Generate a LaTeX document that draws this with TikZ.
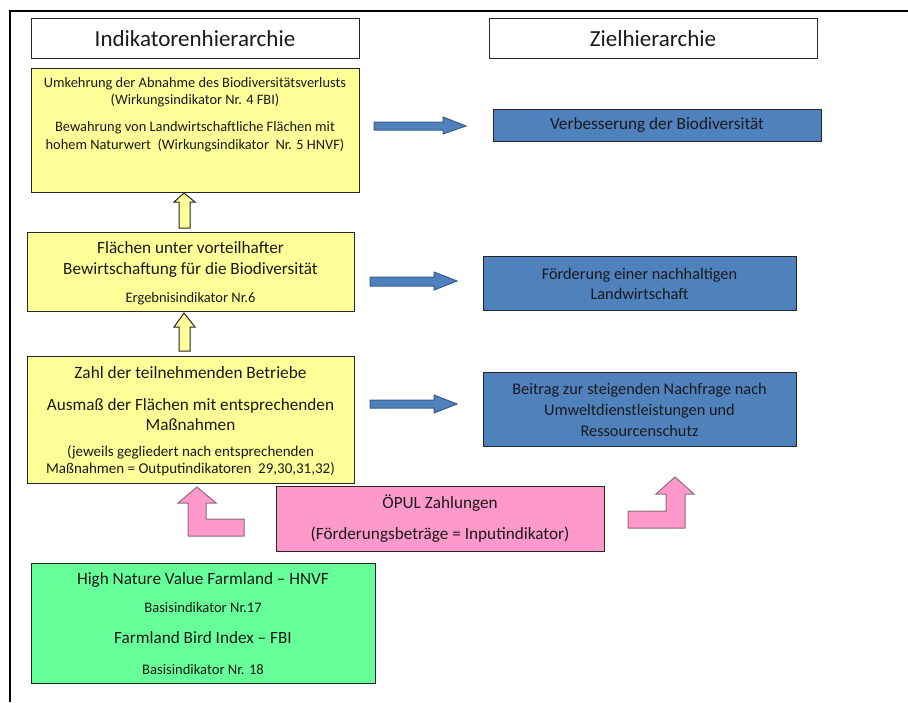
\documentclass[tikz,border=0pt]{standalone}
\usepackage{fontspec}
\setmainfont{Carlito}
\definecolor{ylw}{HTML}{FFFF99}
\definecolor{blu}{HTML}{4F81BD}
\definecolor{bluline}{HTML}{385D8A}
\definecolor{pnk}{HTML}{FF99CC}
\definecolor{pnkline}{HTML}{8C6A7C}
\definecolor{grn}{HTML}{66FF99}
\definecolor{txtc}{HTML}{1A1A1A}
\tikzset{
  boxshape/.style={draw=black!85, line width=1pt},
  txt/.style={inner sep=0pt, align=center, text=txtc},
  blockarrow/.style={line width=1pt, line join=miter},
}
\newcommand{\fs}[2]{\fontsize{#1}{#2}\selectfont}
\begin{document}
\begin{tikzpicture}[x=1pt,y=-1pt]
\useasboundingbox (0,0) rectangle (908,702);
% frame
\draw[line width=2pt] (10,702) -- (10,11) -- (908,11);
% headers
\node[boxshape, fill=white, minimum width=328pt, minimum height=40pt, anchor=north west] (h1) at (31,18) {};
\node[txt, font=\fs{23}{27}] (h1t) at (195,39) {Indikatorenhierarchie};
\node[boxshape, fill=white, minimum width=328pt, minimum height=40pt, anchor=north west] (h2) at (489,18) {};
\node[txt, font=\fs{23}{27}] (h2t) at (653,39) {Zielhierarchie};
% yellow boxes
\node[boxshape, fill=ylw, minimum width=328pt, minimum height=124pt, anchor=north west] (y1) at (31,68) {};
\node[txt, font=\fs{14.4}{17}] (y1a) at (195,92) {Umkehrung der Abnahme des Biodiversitätsverlusts\\(Wirkungsindikator Nr. 4 FBI)};
\node[txt, font=\fs{14.4}{18}] (y1b) at (195,136.5) {Bewahrung von Landwirtschaftliche Flächen mit\\hohem Naturwert\ \ (Wirkungsindikator\ \ Nr. 5 HNVF)};
\node[boxshape, fill=ylw, minimum width=327pt, minimum height=79pt, anchor=north west] (y2) at (27,232) {};
\node[txt, font=\fs{17.2}{21}] (y2a) at (190.5,260) {Flächen unter vorteilhafter\\Bewirtschaftung für die Biodiversität};
\node[txt, font=\fs{14.5}{15}] (y2b) at (190.5,298.5) {Ergebnisindikator Nr.6};
\node[boxshape, fill=ylw, minimum width=327pt, minimum height=127pt, anchor=north west] (y3) at (27,356) {};
\node[txt, font=\fs{17.3}{20}] (y3a) at (190.5,372.5) {Zahl der teilnehmenden Betriebe};
\node[txt, font=\fs{17.2}{20.5}] (y3b) at (190.5,414.5) {Ausmaß der Flächen mit entsprechenden\\Maßnahmen};
\node[txt, font=\fs{15}{16.5}] (y3c) at (190.5,460.5) {(jeweils gegliedert nach entsprechenden\\Maßnahmen = Outputindikatoren\ \ 29,30,31,32)};
% blue boxes
\node[boxshape, fill=blu, minimum width=328pt, minimum height=32pt, anchor=north west] (b1) at (493,109) {};
\node[txt, font=\fs{17.2}{20}] (b1t) at (657,125.5) {Verbesserung der Biodiversität};
\node[boxshape, fill=blu, minimum width=313pt, minimum height=54pt, anchor=north west] (b2) at (483,256) {};
\node[txt, font=\fs{16.3}{20}] (b2t) at (639.5,283.5) {Förderung einer nachhaltigen\\Landwirtschaft};
\node[boxshape, fill=blu, minimum width=313pt, minimum height=74pt, anchor=north west] (b3) at (483,372) {};
\node[txt, font=\fs{16.3}{21}] (b3t) at (639.5,409.5) {Beitrag zur steigenden Nachfrage nach\\Umweltdienstleistungen und\\Ressourcenschutz};
% pink box
\node[boxshape, fill=pnk, minimum width=328pt, minimum height=65pt, anchor=north west] (p1) at (276,486) {};
\node[txt, font=\fs{17.2}{20}] (p1a) at (440,503.5) {ÖPUL Zahlungen};
\node[txt, font=\fs{17.2}{20}] (p1b) at (440,534.5) {(Förderungsbeträge = Inputindikator)};
% green box
\node[boxshape, fill=grn, minimum width=344pt, minimum height=120pt, anchor=north west] (g1) at (31,563) {};
\node[txt, font=\fs{17.2}{20}] (g1a) at (203,579.5) {High Nature Value Farmland – HNVF};
\node[txt, font=\fs{14.6}{15}] (g1b) at (203,607.5) {Basisindikator Nr.17};
\node[txt, font=\fs{17.2}{20}] (g1c) at (203,637.5) {Farmland Bird Index – FBI};
\node[txt, font=\fs{14.6}{15}] (g1d) at (203,669.5) {Basisindikator Nr. 18};
% yellow up arrows
\draw[blockarrow, fill=ylw, draw=black!85] (184,193) -- (195,202) -- (190,202) -- (190,228) -- (179,228) -- (179,202) -- (174,202) -- cycle;
\draw[blockarrow, fill=ylw, draw=black!85] (184,313) -- (195,327) -- (190,327) -- (190,351) -- (179,351) -- (179,327) -- (174,327) -- cycle;
% blue right arrows
\draw[blockarrow, fill=blu, draw=bluline] (374,122) -- (443,122) -- (443,117) -- (466,126) -- (443,134) -- (443,130) -- (374,130) -- cycle;
\draw[blockarrow, fill=blu, draw=bluline] (370,277) -- (434,277) -- (434,272) -- (457,281) -- (434,290) -- (434,286) -- (370,286) -- cycle;
\draw[blockarrow, fill=blu, draw=bluline] (370,400) -- (434,400) -- (434,395) -- (457,404) -- (434,413) -- (434,408) -- (370,408) -- cycle;
% pink bent arrows
\draw[blockarrow, fill=pnk, draw=pnkline] (197,487) -- (216,503) -- (206,503) -- (206,519) -- (244,519) -- (244,536) -- (188,536) -- (188,503) -- (178,503) -- cycle;
\draw[blockarrow, fill=pnk, draw=pnkline] (675,477) -- (694,494) -- (685,494) -- (685,528) -- (628,528) -- (628,511) -- (666,511) -- (666,494) -- (656,494) -- cycle;
\end{tikzpicture}
\end{document}
